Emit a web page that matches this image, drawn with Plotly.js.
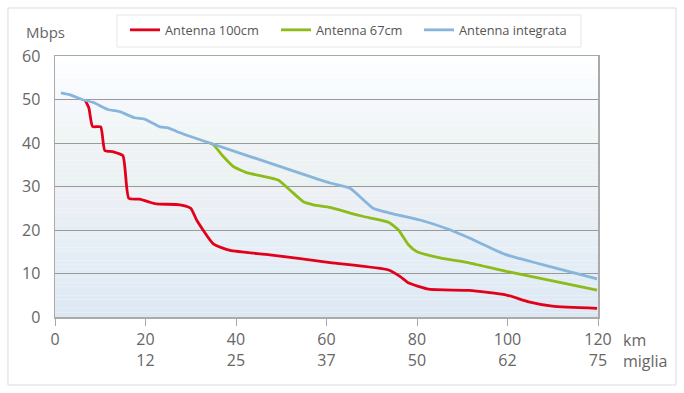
<!DOCTYPE html>
<html>
<head>
<meta charset="utf-8">
<script src="https://cdn.plot.ly/plotly-3.0.1.min.js"></script>
<style>html,body{margin:0;padding:0;background:#fff;}#chart{width:684px;height:393px;}</style>
</head>
<body>
<div id="chart"></div>
<script>
// Data (km, Mbps)
const seriesNames = ['Antenna 100cm', 'Antenna 67cm', 'Antenna integrata'];
const km100 = [6.7, 7.5, 8.3, 10.1, 11.0, 12.8, 15.0, 16.3, 18.7, 20.9, 22.4, 27.6, 30.0, 31.3, 35.0, 38.7, 47.5, 60.8, 73.7, 76.3, 78.2, 82.6, 91.5, 99.6, 104.7, 109.9, 119.8];
const val100 = [49.8, 48.0, 43.8, 43.7, 38.3, 38.0, 37.1, 27.3, 27.1, 26.4, 26.0, 25.8, 25.0, 22.3, 16.8, 15.3, 14.3, 12.5, 10.8, 9.3, 7.8, 6.4, 6.1, 5.1, 3.5, 2.5, 2.0];
const km67 = [34.2, 35.0, 37.2, 39.4, 42.3, 45.3, 49.3, 51.9, 54.9, 57.1, 60.8, 65.2, 68.2, 73.7, 75.9, 78.1, 80.0, 85.1, 91.7, 100.6, 119.8];
const val67 = [40.0, 39.6, 36.9, 34.6, 33.2, 32.5, 31.5, 29.2, 26.5, 25.8, 25.2, 23.9, 23.1, 21.8, 20.0, 16.6, 15.0, 13.6, 12.4, 10.3, 6.2];
const kmInt = [1.3, 3.5, 6.0, 8.5, 11.7, 14.3, 17.6, 19.8, 23.2, 25.0, 27.0, 34.2, 50.0, 60.8, 65.2, 70.3, 74.0, 80.7, 87.4, 91.7, 99.5, 102.8, 109.4, 119.8];
const valInt = [51.5, 51.0, 50.0, 49.3, 47.7, 47.2, 45.8, 45.5, 43.7, 43.5, 42.6, 40.0, 34.5, 30.8, 29.6, 25.0, 23.9, 22.3, 20.0, 18.1, 14.4, 13.4, 11.6, 8.75];
const xTickVals = [0, 20, 40, 60, 80, 100, 120];
const xTickKm = ['0', '20', '40', '60', '80', '100', '120'];
const xTickMiles = ['', '12', '25', '37', '50', '62', '75'];
const yTickVals = [0, 10, 20, 30, 40, 50, 60];

const colors = ['#e2001a', '#8dbb1a', '#88b5dc'];
const font = 'Open Sans, Noto Sans, sans-serif';
const legendIds = ['legend', 'legend2', 'legend3'];
const legendX = [0.1289, 0.407, 0.6703];

function mk(x, y, i) {
  return {
    x: x, y: y, name: seriesNames[i], type: 'scatter', mode: 'lines',
    legend: legendIds[i],
    line: {color: colors[i], width: 2.8, shape: 'spline', smoothing: 0.5},
    hoverinfo: 'skip'
  };
}
const traces = [mk(km100, val100, 0), mk(km67, val67, 1), mk(kmInt, valInt, 2)];

// background gradient bands (styling)
const bandStops = [
  [0, 10, '#dde7f2', '#e3edf6'],
  [10, 20, '#e2ecf5', '#e9f0f6'],
  [20, 30, '#e6eef4', '#eef0f5'],
  [30, 40, '#eaf2f1', '#f0f2f6'],
  [40, 50, '#eef6f4', '#f6f7fd'],
  [50, 60, '#f4f8fd', '#ffffff']
];
function hex2rgb(h){return [parseInt(h.slice(1,3),16),parseInt(h.slice(3,5),16),parseInt(h.slice(5,7),16)];}
const shapes = [];
bandStops.forEach(b => {
  const n = 10, c0 = hex2rgb(b[2]), c1 = hex2rgb(b[3]);
  for (let k = 0; k < n; k++) {
    const t = (k + 0.5) / n;
    const c = c0.map((v, j) => Math.round(v + (c1[j] - v) * t));
    shapes.push({type: 'rect', xref: 'paper', yref: 'y', x0: 0, x1: 1,
      y0: b[0] + (b[1] - b[0]) * k / n, y1: b[0] + (b[1] - b[0]) * (k + 1) / n,
      fillcolor: 'rgb(' + c.join(',') + ')', line: {width: 0}, layer: 'below'});
  }
});
// outer frame
shapes.push({type: 'rect', xref: 'paper', yref: 'paper', x0: -0.0866, x1: 1.1436, y0: -0.2605, y1: 1.184,
  line: {color: '#dcdcdc', width: 1}, fillcolor: 'rgba(0,0,0,0)', layer: 'below'});
// legend box
shapes.push({type: 'rect', xref: 'paper', yref: 'paper', x0: 0.1142, x1: 0.9687, y0: 1.0345, y1: 1.157,
  line: {color: '#e6e6e6', width: 1}, fillcolor: '#ffffff', layer: 'below'});

const layout = {
  width: 684, height: 393,
  margin: {l: 55, r: 86, t: 56, b: 76},
  paper_bgcolor: '#ffffff', plot_bgcolor: '#ffffff',
  font: {family: font, color: '#666', size: 16},
  showlegend: true,
  xaxis: {
    range: [0, 120], tickvals: xTickVals,
    ticktext: xTickKm.map((k, i) => xTickMiles[i] ? k + '<br>' + xTickMiles[i] : k),
    ticks: 'outside', ticklen: 7, tickcolor: '#aaaaaa', tickwidth: 1,
    showline: true, linecolor: '#aaaaaa', linewidth: 1.5, mirror: true,
    showgrid: false, zeroline: false, fixedrange: true,
    tickfont: {size: 16, color: '#666'}
  },
  yaxis: {
    range: [0, 60], tickvals: yTickVals,
    ticks: 'outside', ticklen: 10, tickcolor: 'rgba(0,0,0,0)',
    showline: true, linecolor: '#aaaaaa', linewidth: 1.5, mirror: true,
    showgrid: true, gridcolor: '#9a9a9a', gridwidth: 1, zeroline: false, fixedrange: true,
    tickfont: {size: 16, color: '#666'}
  },
  shapes: shapes,
  annotations: [
    {text: 'Mbps', xref: 'paper', yref: 'paper', x: -0.057, y: 1.138, xanchor: 'left', yanchor: 'top',
      showarrow: false, font: {size: 15, color: '#666', family: font}},
    {text: 'km<br>miglia', xref: 'paper', yref: 'paper', x: 1.043, y: -0.039, xanchor: 'left', yanchor: 'top', align: 'left',
      showarrow: false, font: {size: 16, color: '#666', family: font}}
  ]
};
legendIds.forEach((id, i) => {
  layout[id] = {
    orientation: 'h', x: legendX[i], xanchor: 'left', y: 1.157, yanchor: 'top',
    bgcolor: 'rgba(0,0,0,0)', borderwidth: 0,
    font: {family: font, size: 12.8, color: '#555'}, itemwidth: 30
  };
});
Plotly.newPlot('chart', traces, layout, {staticPlot: true, displayModeBar: false});
</script>
</body>
</html>
